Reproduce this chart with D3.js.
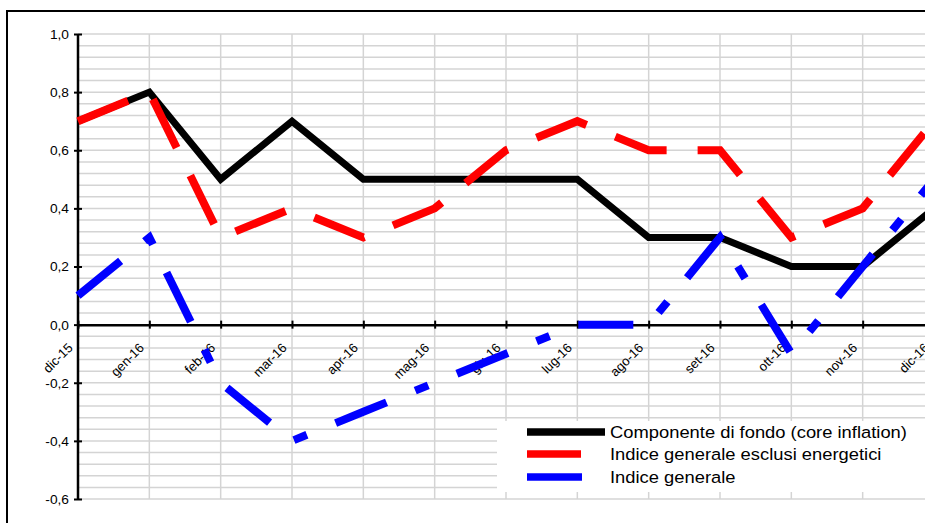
<!DOCTYPE html>
<html>
<head>
<meta charset="utf-8">
<script src="https://cdn.jsdelivr.net/npm/d3@7"></script>
<style>
  html, body { margin: 0; padding: 0; background: #fff; }
  svg { display: block; }
  text { font-family: Arial, "Liberation Sans", sans-serif; fill: #000; }
</style>
</head>
<body>
<svg id="chart" width="925" height="523"></svg>
<script>
const categories = ["dic-15","gen-16","feb-16","mar-16","apr-16","mag-16","giu-16","lug-16","ago-16","set-16","ott-16","nov-16","dic-16"];
const coreInflation = [0.7,0.8,0.5,0.7,0.5,0.5,0.5,0.5,0.3,0.3,0.2,0.2,0.4];
const exEnergy = [0.7,0.8,0.3,0.4,0.3,0.4,0.6,0.7,0.6,0.6,0.3,0.4,0.7];
const general = [0.1,0.3,-0.2,-0.4,-0.3,-0.2,-0.1,0.0,0.0,0.3,-0.1,0.2,0.5];
const yTickValues = [-0.6,-0.4,-0.2,0.0,0.2,0.4,0.6,0.8,1.0];
const yTickLabels = ["-0,6","-0,4","-0,2","0,0","0,2","0,4","0,6","0,8","1,0"];
const seriesNames = ["Componente di fondo (core inflation)","Indice generale esclusi energetici","Indice generale"];

const svg = d3.select("#chart");
const x = d3.scalePoint().domain(categories).range([78, 934]).padding(0);
const y = d3.scaleLinear().domain([-0.6, 1.0]).range([499, 34]);

// outer frame
svg.append("rect").attr("x", 7).attr("y", 11).attr("width", 960).attr("height", 560)
  .attr("fill", "#fff").attr("stroke", "#000").attr("stroke-width", 2);

// minor horizontal gridlines
const gridVals = d3.range(0, 41).map(i => -0.6 + i * 0.04);
svg.append("g").selectAll("line").data(gridVals).join("line")
  .attr("x1", 78).attr("x2", 934)
  .attr("y1", d => y(d)).attr("y2", d => y(d))
  .attr("stroke", "#d4d4d4").attr("stroke-width", 1.5);
// vertical gridlines
svg.append("g").selectAll("line").data(categories.slice(1)).join("line")
  .attr("x1", d => x(d)).attr("x2", d => x(d))
  .attr("y1", y(1.0)).attr("y2", y(-0.6))
  .attr("stroke", "#d4d4d4").attr("stroke-width", 1.5);

// Y axis
const yAxis = svg.append("g").attr("transform", "translate(78,0)")
  .call(d3.axisLeft(y).tickValues(yTickValues).tickSize(4)
    .tickFormat((d, i) => yTickLabels[i]));
yAxis.select(".domain").attr("d", `M0,${y(1.0)}V${y(-0.6)}`).attr("stroke", "#000").attr("stroke-width", 2.5);
yAxis.selectAll(".tick line").attr("x1", -4).attr("x2", 4).attr("stroke", "#000").attr("stroke-width", 2);
yAxis.selectAll(".tick text").attr("x", 0).attr("dy", "0.35em")
  .attr("font-size", 12.5).attr("font-family", "Arial, 'Liberation Sans', sans-serif")
  .attr("transform", "translate(-9,0) scale(1.1,1)");

// X axis at y=0
const xAxis = svg.append("g").attr("transform", `translate(0,${y(0)})`)
  .call(d3.axisBottom(x).tickSize(4).tickSizeOuter(0));
xAxis.select(".domain").attr("stroke", "#000").attr("stroke-width", 2.5);
xAxis.selectAll(".tick line").attr("y1", -4).attr("y2", 4).attr("stroke", "#000").attr("stroke-width", 2);
xAxis.selectAll(".tick text")
  .attr("font-size", 13).attr("font-family", "Arial, 'Liberation Sans', sans-serif")
  .attr("text-anchor", "end").attr("dy", null).attr("y", 0)
  .attr("transform", "translate(-5,24) rotate(-45)");

// lines
const line = d3.line().x((d, i) => x(categories[i])).y(d => y(d));
const series = [
  {name: seriesNames[0], values: coreInflation, color: "#000000", width: 7, dash: null},
  {name: seriesNames[1], values: exEnergy, color: "#ff0000", width: 8, dash: "54,31"},
  {name: seriesNames[2], values: general, color: "#0000ff", width: 8, dash: "55,31,14,31"}
];
series.forEach(s => {
  svg.append("path").datum(s.values).attr("d", line)
    .attr("fill", "none").attr("stroke", s.color).attr("stroke-width", s.width)
    .attr("stroke-linejoin", "miter").attr("stroke-linecap", "butt")
    .attr("stroke-dasharray", s.dash);
});

// legend
const lg = svg.append("g");
lg.append("rect").attr("x", 497).attr("y", 421).attr("width", 440).attr("height", 71).attr("fill", "#fff");
const ly = [432, 454, 477];
series.forEach((s, i) => {
  lg.append("line").attr("x1", 527).attr("x2", 605).attr("y1", ly[i]).attr("y2", ly[i])
    .attr("stroke", s.color).attr("stroke-width", 7.5).attr("stroke-dasharray", s.dash);
  lg.append("text").attr("transform", `translate(610,${ly[i]}) scale(1.08,1)`)
    .attr("dy", "0.36em").attr("font-size", 17).text(s.name);
});
</script>
</body>
</html>
